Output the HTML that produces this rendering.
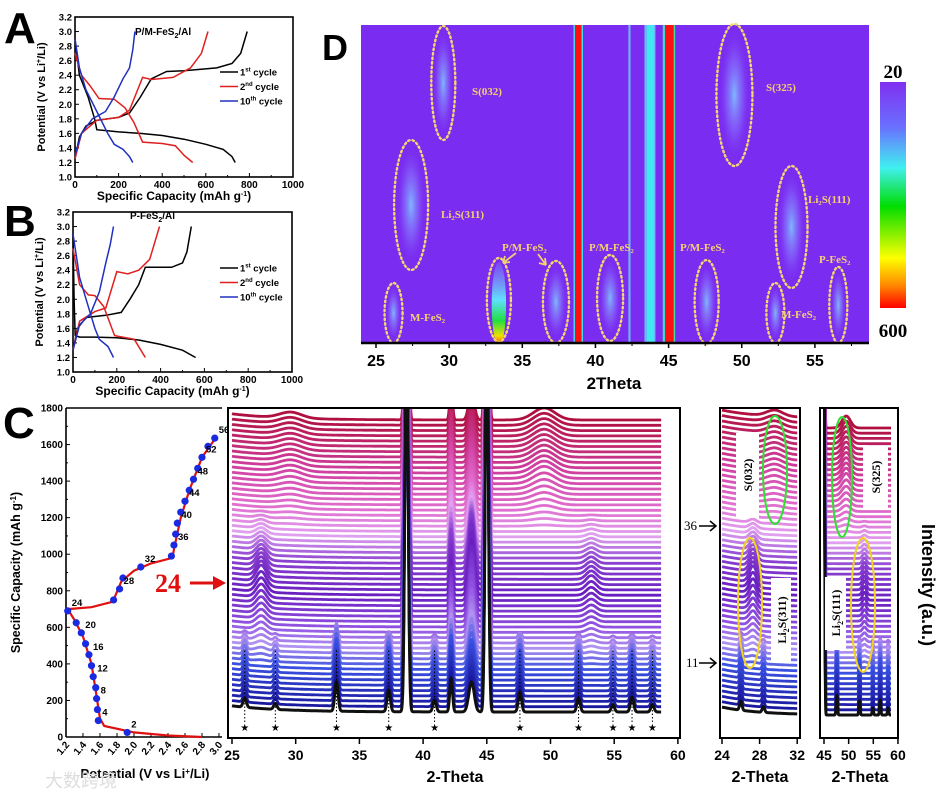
<!DOCTYPE html>
<html><head><meta charset="utf-8">
<style>
html,body{margin:0;padding:0;background:#fff;}
svg{display:block;font-family:"Liberation Sans",sans-serif;}
</style></head>
<body>
<svg id="fig" width="938" height="797" viewBox="0 0 938 797" xmlns="http://www.w3.org/2000/svg">
<defs>
  <linearGradient id="cbar" x1="0" y1="0" x2="0" y2="1">
    <stop offset="0" stop-color="#8030f0"/><stop offset="0.2" stop-color="#6a70ff"/>
    <stop offset="0.38" stop-color="#40f0f0"/><stop offset="0.55" stop-color="#00dd00"/>
    <stop offset="0.78" stop-color="#ffff00"/><stop offset="0.9" stop-color="#ff8800"/>
    <stop offset="1" stop-color="#ff0000"/>
  </linearGradient>
  <radialGradient id="blob" cx="0.5" cy="0.5" r="0.5">
    <stop offset="0" stop-color="#7ec8ff" stop-opacity="0.9"/><stop offset="0.55" stop-color="#8a80ff" stop-opacity="0.45"/><stop offset="1" stop-color="#7a2cf0" stop-opacity="0"/>
  </radialGradient>
  <linearGradient id="hot" x1="0" y1="0" x2="0" y2="1">
    <stop offset="0" stop-color="#80b0ff" stop-opacity="0.2"/><stop offset="0.45" stop-color="#60e0ff"/><stop offset="0.7" stop-color="#20e040"/><stop offset="0.88" stop-color="#f0e000"/><stop offset="1" stop-color="#ff2000"/>
  </linearGradient>
  <clipPath id="clipW"><rect x="228" y="408" width="452" height="330"/></clipPath>
  <clipPath id="clipS1"><rect x="720" y="408" width="80" height="330"/></clipPath>
  <clipPath id="clipS2"><rect x="820" y="408" width="78" height="330"/></clipPath>
  <clipPath id="clipD"><rect x="361" y="25" width="508" height="318"/></clipPath>
</defs>
<g id="root"></g>
</svg>
<script>
// ---------- Panel A / B data (capacity mAh/g, potential V) ----------
const aDis1=[[0,2.9],[20,2.4],[60,2.1],[90,1.8],[100,1.65],[200,1.62],[300,1.6],[400,1.57],[500,1.52],[600,1.45],[680,1.38],[720,1.28],[735,1.2]];
const aCha1=[[0,1.25],[20,1.55],[50,1.7],[100,1.78],[200,1.82],[250,1.88],[300,2.1],[350,2.35],[420,2.45],[500,2.46],[650,2.5],[720,2.56],[760,2.7],[790,3.0]];
const aDis2=[[0,2.7],[30,2.4],[70,2.25],[110,2.08],[180,2.07],[230,1.95],[270,1.75],[310,1.48],[400,1.46],[460,1.43],[500,1.3],[540,1.2]];
const aCha2=[[0,1.25],[30,1.6],[100,1.78],[200,1.82],[250,1.92],[310,2.37],[350,2.34],[450,2.37],[530,2.5],[580,2.7],[610,3.0]];
const aDis10=[[0,2.9],[20,2.5],[50,2.2],[100,1.9],[150,1.6],[180,1.45],[220,1.38],[250,1.28],[265,1.2]];
const aCha10=[[0,1.3],[30,1.6],[80,1.8],[140,1.9],[180,2.1],[220,2.35],[250,2.5],[265,2.75],[275,3.0]];
const bDis1=[[0,2.9],[5,2.0],[10,1.5],[30,1.48],[100,1.48],[200,1.47],[300,1.44],[400,1.38],[500,1.3],[560,1.2]];
const bCha1=[[0,1.3],[20,1.6],[60,1.75],[150,1.78],[220,1.82],[260,2.0],[300,2.2],[330,2.44],[450,2.44],[500,2.5],[520,2.65],[540,3.0]];
const bDis2=[[0,2.7],[30,2.2],[70,2.06],[100,2.05],[140,1.9],[190,1.5],[280,1.45],[330,1.2]];
const bCha2=[[0,1.3],[30,1.7],[100,1.83],[150,1.88],[200,2.38],[250,2.35],[300,2.4],[350,2.55],[395,3.0]];
const bDis10=[[0,2.9],[30,2.3],[60,2.0],[100,1.6],[120,1.45],[160,1.35],[185,1.2]];
const bCha10=[[0,1.3],[30,1.65],[80,1.8],[120,2.1],[150,2.5],[170,2.75],[185,3.0]];
const abYTicks=[1.0,1.2,1.4,1.6,1.8,2.0,2.2,2.4,2.6,2.8,3.0,3.2];
const abXTicks=[0,200,400,600,800,1000];
// ---------- Panel C data ----------
const cCurve=[[2.8,0],[2.4,8],[2.0,25],[1.65,60],[1.6,100],[1.55,250],[1.5,400],[1.4,550],[1.3,640],[1.22,700],[1.5,710],[1.75,740],[1.85,850],[2.0,910],[2.2,950],[2.45,980],[2.48,1050],[2.55,1200],[2.65,1350],[2.8,1530],[2.95,1630]];
const cPoints=[[1.92,25],[1.58,90],[1.57,150],[1.56,210],[1.55,270],[1.52,330],[1.5,390],[1.47,450],[1.43,510],[1.38,570],[1.32,625],[1.22,690],[1.76,750],[1.83,810],[1.87,870],[2.08,930],[2.44,990],[2.47,1050],[2.49,1110],[2.51,1170],[2.55,1230],[2.6,1290],[2.65,1350],[2.7,1410],[2.75,1470],[2.8,1530],[2.87,1590],[2.95,1635]];
const cLabels=[["2",1.92,25],["4",1.58,90],["8",1.56,210],["12",1.52,330],["16",1.47,450],["20",1.38,570],["24",1.22,690],["28",1.83,810],["32",2.08,930],["36",2.47,1050],["40",2.51,1170],["44",2.6,1290],["48",2.7,1410],["52",2.8,1530],["56",2.95,1635]];
const cXTicks=[1.2,1.4,1.6,1.8,2.0,2.2,2.4,2.6,2.8,3.0];
const cYTicks=[0,200,400,600,800,1000,1200,1400,1600,1800];
// ---------- XRD waterfall data ----------
const nCycles=56;
const fesPeaks=[26,28.4,33.2,37.3,40.9,47.6,52.2,54.9,56.4,58];
const fesHeights=[9,6,30,22,12,20,14,7,15,7];
const hostPeaks=[38.7,42.2,43.8,45];
const hostHeights=[420,34,50,420];
const li2sPeaks=[27.3,53.2];
const li2sHeights=[16,9];
const sPeaks=[29.6,49.5];
const sHeights=[6,12];
const starPeaks=[26,28.4,33.2,37.3,40.9,47.6,52.2,54.9,56.4,58];
const wXTicks=[25,30,35,40,45,50,55,60];
const s1XTicks=[24,28,32];
const s2XTicks=[45,50,55,60];
// ---------- Heatmap D data ----------
const dXTicks=[25,30,35,40,45,50,55];
const dBlobs=[[29.6,83,12,57],[27.4,205,17,65],[26.2,313,9,30],[37.3,302,13,41],[41,298,13,43],[47.6,302,12,42],[49.5,95,18,71],[53.4,227,16,61],[52.3,313,9,30],[56.6,305,9,38]];
const dHot=[33.4,300,12,42];
const dLabels=[["S(032)",472,95],["Li₂S(311)",441,218],["M-FeS₂",410,321],["P/M-FeS₂",502,251],["P/M-FeS₂",589,251],["P/M-FeS₂",680,251],["S(325)",766,91],["Li₂S(111)",808,203],["M-FeS₂",781,318],["P-FeS₂",819,263]];

const NS="http://www.w3.org/2000/svg";
const root=document.getElementById('root');
function mk(tag,attrs,parent,name,inter){const e=document.createElementNS(NS,tag);for(const k in attrs)e.setAttribute(k,attrs[k]);(parent||root).appendChild(e);


return e;}
function txt(s,x,y,attrs,parent,name){const e=mk('text',Object.assign({x:x,y:y},attrs||{}),parent,name||'label');e.textContent=s;return e;}
function pth(pts,fx,fy){return pts.map((p,i)=>(i?'L':'M')+fx(p[0]).toFixed(1)+' '+fy(p[1]).toFixed(1)).join('');}

// ======== Panel A & B ========
function cyclePanel(tag,x0,x1,yTop,yBot,curves,title,titleX,titleY,legY,letterY){
  const g=mk('g',{},root,'panel-'+tag);
  const fx=c=>x0+c*(x1-x0)/1000, fy=v=>yBot-(v-1)*(yBot-yTop)/2.2;
  mk('rect',{x:x0,y:yTop,width:x1-x0,height:yBot-yTop,fill:'none',stroke:'#000','stroke-width':1.6},g,'plot-frame');
  abYTicks.forEach(v=>{mk('line',{x1:x0,x2:x0+4,y1:fy(v),y2:fy(v),stroke:'#000'},g,'y-tick');
    txt(v.toFixed(1),x0-3,fy(v)+3.5,{'text-anchor':'end','font-size':9.5,'font-weight':'bold'},g,'y-tick-label');});
  abXTicks.forEach(c=>{mk('line',{x1:fx(c),x2:fx(c),y1:yBot,y2:yBot-4,stroke:'#000'},g,'x-tick');
    if(c<1000) mk('line',{x1:fx(c+100),x2:fx(c+100),y1:yBot,y2:yBot-2,stroke:'#000'},g,'x-minor-tick');
    txt(String(c),fx(c),yBot+11,{'text-anchor':'middle','font-size':10,'font-weight':'bold'},g,'x-tick-label');});
  curves.forEach(cv=>mk('path',{d:pth(cv[0],fx,fy),fill:'none',stroke:cv[1],'stroke-width':1.5},g,'curve-'+cv[2]));
  txt('',titleX,titleY,{'font-size':10,'font-weight':'bold'},g,'panel-title').innerHTML=title;
  const leg=[['#000','1','st'],['#e02020','2','nd'],['#2030c0','10','th']];
  leg.forEach((l,i)=>{const y=legY+i*14.5;mk('line',{x1:220,x2:238,y1:y,y2:y,stroke:l[0],'stroke-width':1.5},g,'legend-line');
    const t=txt('',240,y+3.5,{'font-size':9.5,'font-weight':'bold'},g,'legend-entry');
    t.innerHTML=l[1]+'<tspan font-size="6" dy="-4">'+l[2]+'</tspan><tspan dy="4"> cycle</tspan>';});
  const yl=txt('',0,0,{'font-size':11,'font-weight':'bold','text-anchor':'middle',transform:'translate('+(x0-30)+','+((yTop+yBot)/2)+') rotate(-90)'},g,'y-axis-title');
  yl.innerHTML='Potential (V vs Li<tspan font-size="7" dy="-4">+</tspan><tspan dy="4">/Li)</tspan>';
  const xl=txt('',(x0+x1)/2-10,yBot+23,{'font-size':12,'font-weight':'bold','text-anchor':'middle'},g,'x-axis-title');
  xl.innerHTML='Specific Capacity (mAh g<tspan font-size="7" dy="-4">-1</tspan><tspan dy="4">)</tspan>';
  txt(tag,4,letterY,{'font-size':44,'font-weight':'bold'},g,'panel-letter');
}
cyclePanel('A',75,293,17,177,[[aDis1,'#000','1st-discharge'],[aCha1,'#000','1st-charge'],[aDis2,'#e02020','2nd-discharge'],[aCha2,'#e02020','2nd-charge'],[aDis10,'#2030c0','10th-discharge'],[aCha10,'#2030c0','10th-charge']],'P/M-FeS<tspan font-size="7" dy="3">2</tspan><tspan dy="-3">/Al</tspan>',135,35,72,43);
cyclePanel('B',73,292,212,372,[[bDis1,'#000','1st-discharge'],[bCha1,'#000','1st-charge'],[bDis2,'#e02020','2nd-discharge'],[bCha2,'#e02020','2nd-charge'],[bDis10,'#2030c0','10th-discharge'],[bCha10,'#2030c0','10th-charge']],'P-FeS<tspan font-size="7" dy="3">2</tspan><tspan dy="-3">/Al</tspan>',130,219,268,236);

// ======== Panel C ========
(function(){
  const g=mk('g',{},root,'panel-C');
  const x0=66,x1=219,yT=408,yB=737;
  const fx=p=>x0+(p-1.2)*(x1-x0)/1.8, fy=c=>yB-c*(yB-yT)/1800;
  mk('line',{x1:x0,y1:yT,x2:x0,y2:yB,stroke:'#000','stroke-width':1.6},g,'y-axis');
  mk('line',{x1:x0,y1:yB,x2:x1+3,y2:yB,stroke:'#000','stroke-width':1.6},g,'x-axis');
  mk('line',{x1:x0,y1:yT,x2:222,y2:yT,stroke:'#000','stroke-width':1.6},g,'top-axis');
  cYTicks.forEach(c=>{mk('line',{x1:x0,x2:x0+4,y1:fy(c),y2:fy(c),stroke:'#000'},g,'y-tick');
    if(c<1800) mk('line',{x1:x0,x2:x0+2,y1:fy(c+100),y2:fy(c+100),stroke:'#000'},g,'y-minor-tick');
    txt(String(c),x0-3,fy(c)+3.5,{'text-anchor':'end','font-size':10,'font-weight':'bold'},g,'y-tick-label');});
  cXTicks.forEach(p=>{mk('line',{x1:fx(p),x2:fx(p),y1:yB,y2:yB-4,stroke:'#000'},g,'x-tick');
    txt(p.toFixed(1),0,0,{'font-size':10,'font-weight':'bold','text-anchor':'end',transform:'translate('+(fx(p)+4)+','+(yB+8)+') rotate(-50)'},g,'x-tick-label');});
  mk('path',{d:pth(cCurve,fx,fy),fill:'none',stroke:'#e01010','stroke-width':2.2},g,'capacity-curve');
  cPoints.forEach(p=>mk('circle',{cx:fx(p[0]),cy:fy(p[1]),r:3.6,fill:'#1a2ae0'},g,'scan-point'));
  cLabels.forEach(l=>txt(l[0],fx(l[1])+4,fy(l[2])-5,{'font-size':9.5,'font-weight':'bold'},g,'point-label'));
  const yl=txt('',0,0,{'font-size':12.5,'font-weight':'bold','text-anchor':'middle',transform:'translate(20,'+((yT+yB)/2)+') rotate(-90)'},g,'y-axis-title');
  yl.innerHTML='Specific Capacity (mAh g<tspan font-size="8" dy="-4">-1</tspan><tspan dy="4">)</tspan>';
  const xl=txt('',145,778,{'font-size':13,'font-weight':'bold','text-anchor':'middle'},g,'x-axis-title');
  xl.innerHTML='Potential (V vs Li<tspan font-size="8" dy="-4">+</tspan><tspan dy="4">/Li)</tspan>';
  txt('C',3,438,{'font-size':44,'font-weight':'bold'},g,'panel-letter');
  txt('24',155,592,{'font-size':26,'font-weight':'bold','fill':'#e01010','font-family':'Liberation Serif'},g,'cycle-24-label');
  mk('path',{d:'M190 583 L215 583',stroke:'#e01010','stroke-width':3},g,'cycle-24-arrow');
  mk('path',{d:'M213 576 L226 583 L213 590 Z',fill:'#e01010'},g,'cycle-24-arrowhead');
  txt('大数跨境',45,787,{'font-size':18,'fill':'#ddd','font-family':'"Liberation Sans","Noto Sans CJK SC",sans-serif'},g,'watermark');
})();

// ======== Panel D heatmap ========
(function(){
  const g=mk('g',{},root,'panel-D');
  const xD=t=>376+(t-25)*14.63;
  txt('D',322,60,{'font-size':36,'font-weight':'bold'},g,'panel-letter');
  const hm=mk('g',{'clip-path':'url(#clipD)'},g,'heatmap');
  mk('rect',{x:361,y:25,width:508,height:318,fill:'#7a2cf0'},hm,'heatmap-background');
  dBlobs.forEach(b=>mk('ellipse',{cx:xD(b[0]),cy:b[1],rx:b[2]*0.85,ry:b[3]*0.95,fill:'url(#blob)'},hm,'intensity-blob'));
  mk('ellipse',{cx:xD(dHot[0]),cy:dHot[1]+4,rx:dHot[2]*0.6,ry:dHot[3],fill:'url(#hot)'},hm,'intensity-hot-peak');
  const stripes=[[38.5,38.6,'#40e0f0'],[38.6,39.05,'#ff1010'],[39.05,39.15,'#40e0f0'],[42.25,42.4,'#70b0ff'],[43.35,43.5,'#70b8ff'],[43.5,44.0,'#40e8f0'],[44.0,44.1,'#70b8ff'],[44.6,44.75,'#40e0c0'],[44.8,45.35,'#ff1010'],[45.35,45.45,'#40e0a0']];
  stripes.forEach(s=>mk('rect',{x:xD(s[0]),y:25,width:xD(s[1])-xD(s[0]),height:318,fill:s[2]},hm,'peak-stripe'));
  dBlobs.concat([dHot]).forEach(b=>mk('ellipse',{cx:xD(b[0]),cy:b[1],rx:b[2],ry:b[3],fill:'none',stroke:'#f2d870','stroke-width':2.4,'stroke-dasharray':'1.5 3','stroke-linecap':'round'},g,'phase-ellipse'));
  dLabels.forEach(l=>txt(l[0],l[1],l[2],{'font-size':11,'font-weight':'bold','fill':'#f5d070','font-family':'"Liberation Serif",serif'},g,'phase-label'));
  mk('path',{d:'M516 253 L503 263 M503 263 L510 262 M503 263 L505 256 M538 254 L546 265 M546 265 L545 258 M546 265 L539 263',stroke:'#f5d070','stroke-width':1.8,fill:'none'},g,'phase-arrows');
  mk('line',{x1:361,x2:869,y1:343,y2:343,stroke:'#000','stroke-width':2.5},g,'x-axis');
  dXTicks.forEach(t=>{mk('line',{x1:xD(t),x2:xD(t),y1:343,y2:348,stroke:'#000','stroke-width':1.5},g,'x-tick');
    mk('line',{x1:xD(t+2.5),x2:xD(t+2.5),y1:343,y2:346,stroke:'#000'},g,'x-minor-tick');
    txt(String(t),xD(t),366,{'text-anchor':'middle','font-size':16,'font-weight':'bold'},g,'x-tick-label');});
  txt('2Theta',614,389,{'text-anchor':'middle','font-size':17,'font-weight':'bold'},g,'x-axis-title');
  mk('rect',{x:880,y:82,width:26,height:226,fill:'url(#cbar)'},g,'colorbar');
  txt('20',893,78,{'text-anchor':'middle','font-size':19,'font-weight':'bold','font-family':'"Liberation Serif",serif'},g,'colorbar-min-label');
  txt('600',893,337,{'text-anchor':'middle','font-size':19,'font-weight':'bold','font-family':'"Liberation Serif",serif'},g,'colorbar-max-label');
})();

// ======== XRD waterfall panels ========
const colorStops=[[0,[16,16,16]],[1,[26,26,160]],[8,[58,80,224]],[12,[176,144,240]],[16,[144,80,224]],[22,[106,32,192]],[28,[138,64,208]],[33,[224,160,240]],[38,[224,112,208]],[45,[208,64,160]],[55,[176,16,64]]];
function colorAt(i){for(let k=1;k<colorStops.length;k++){const a=colorStops[k-1],b=colorStops[k];if(i<=b[0]){const f=(i-a[0])/(b[0]-a[0]||1);return 'rgb('+a[1].map((v,j)=>Math.round(v+(b[1][j]-v)*f)).join(',')+')';}}return 'rgb(176,16,64)';}
function gauss(t,p,w){const d=(t-p)/w;return Math.exp(-d*d);}
function wFes(i){return i<=11?1:Math.max(0,1-(i-11)/4);}
function wLi(i){return i<8?0:(i<=24?(i-8)/16:Math.max(0,1-(i-24)/14));}
function wS(i){return i<34?0:Math.min(1,(i-34)/10);}
function intensity(i,t){
  let v=7*Math.exp(-(t-24.5)/4);
  hostPeaks.forEach((p,k)=>{const w=(k==0||k==3)?0.17:(k==1?0.15:0.3);v+=hostHeights[k]*gauss(t,p,w)*(k==2?(0.6+0.6*wLi(i)):1);});
  fesPeaks.forEach((p,k)=>{v+=fesHeights[k]*wFes(i)*gauss(t,p,0.18);});
  li2sPeaks.forEach((p,k)=>{v+=li2sHeights[k]*wLi(i)*gauss(t,p,0.55);});
  sPeaks.forEach((p,k)=>{v+=sHeights[k]*wS(i)*gauss(t,p,1.2);});
  return v;
}
function waterfall(name,clip,fx,tMin,tMax,baseBot,baseTop,amp,step){
  const g=mk('g',{'clip-path':'url(#'+clip+')'},root,name);
  for(let i=nCycles-1;i>=0;i--){
    const base=baseBot-(baseBot-baseTop)*i/(nCycles-1);
    let d='';
    for(let t=tMin;t<=tMax+1e-6;t+=step){d+=(d?'L':'M')+fx(t).toFixed(1)+' '+(base-amp*intensity(i,t)).toFixed(1);}
    mk('path',{d:d,fill:'none',stroke:colorAt(i),'stroke-width':i==0?3:2.8,'stroke-linejoin':'round'},g,'xrd-pattern-cycle-'+(i+1));
  }
  return g;
}
// main
(function(){
  const fx=t=>232+(t-25)*12.74;
  waterfall('xrd-waterfall-main','clipW',fx,25,58.7,712,420,1,0.04);
  const g=mk('g',{},root,'xrd-main-axes');
  starPeaks.forEach(p=>{mk('line',{x1:fx(p),x2:fx(p),y1:722,y2:650,stroke:'#000','stroke-dasharray':'1.5 2'},g,'peak-guide');
    txt('★',fx(p),731,{'text-anchor':'middle','font-size':10},g,'fes2-star');});
  mk('rect',{x:228,y:408,width:452,height:330,fill:'none',stroke:'#000','stroke-width':2},g,'plot-frame');
  wXTicks.forEach(t=>{mk('line',{x1:fx(t),x2:fx(t),y1:738,y2:744,stroke:'#000','stroke-width':1.5},g,'x-tick');
    txt(String(t),fx(t),760,{'text-anchor':'middle','font-size':14,'font-weight':'bold'},g,'x-tick-label');});
  txt('2-Theta',455,782,{'text-anchor':'middle','font-size':16,'font-weight':'bold'},g,'x-axis-title');
})();
// small 1
(function(){
  const fx=t=>722+(t-24)*9.4;
  waterfall('xrd-zoom-24-32','clipS1',fx,24,32,715,418,1,0.05);
  const g=mk('g',{},root,'xrd-zoom1-axes');
  mk('rect',{x:720,y:408,width:80,height:330,fill:'none',stroke:'#000','stroke-width':2},g,'plot-frame');
  s1XTicks.forEach(t=>{mk('line',{x1:fx(t),x2:fx(t),y1:738,y2:744,stroke:'#000','stroke-width':1.5},g,'x-tick');
    txt(String(t),fx(t),760,{'text-anchor':'middle','font-size':14,'font-weight':'bold'},g,'x-tick-label');});
  txt('2-Theta',760,782,{'text-anchor':'middle','font-size':16,'font-weight':'bold'},g,'x-axis-title');
  mk('rect',{x:736,y:433,width:23,height:85,fill:'#fff'},g,'label-box');
  txt('S(032)',0,0,{'font-size':12,'font-weight':'bold','font-family':'"Liberation Serif",serif','text-anchor':'middle',transform:'translate(752,475) rotate(-90)'},g,'s032-label');
  mk('ellipse',{cx:775,cy:470,rx:12,ry:54,fill:'none',stroke:'#30e030','stroke-width':2},g,'s032-ellipse');
  mk('rect',{x:771,y:578,width:20,height:84,fill:'#fff'},g,'label-box');
  const t=txt('',0,0,{'font-size':12,'font-weight':'bold','font-family':'"Liberation Serif",serif','text-anchor':'middle',transform:'translate(786,620) rotate(-90)'},g,'li2s311-label');
  t.innerHTML='Li<tspan font-size="8" dy="3">2</tspan><tspan dy="-3">S(311)</tspan>';
  mk('ellipse',{cx:750,cy:603,rx:12,ry:65,fill:'none',stroke:'#f0d020','stroke-width':2},g,'li2s311-ellipse');
  txt('36',684,530,{'font-size':13,'font-family':'"Liberation Serif",serif'},g,'cycle-36-label');
  mk('path',{d:'M699 526 L716 526 M710 521 L716 526 L710 531',stroke:'#000','stroke-width':1.5,fill:'none'},g,'cycle-36-arrow');
  txt('11',686,667,{'font-size':13,'font-family':'"Liberation Serif",serif'},g,'cycle-11-label');
  mk('path',{d:'M699 663 L716 663 M710 658 L716 663 L710 668',stroke:'#000','stroke-width':1.5,fill:'none'},g,'cycle-11-arrow');
})();
// small 2
(function(){
  const fx=t=>824+(t-45)*4.93;
  waterfall('xrd-zoom-45-60','clipS2',fx,45,58.6,715,428,1,0.05);
  const g=mk('g',{},root,'xrd-zoom2-axes');
  mk('rect',{x:820,y:408,width:78,height:330,fill:'none',stroke:'#000','stroke-width':2},g,'plot-frame');
  s2XTicks.forEach(t=>{mk('line',{x1:fx(t),x2:fx(t),y1:738,y2:744,stroke:'#000','stroke-width':1.5},g,'x-tick');
    txt(String(t),fx(t),760,{'text-anchor':'middle','font-size':14,'font-weight':'bold'},g,'x-tick-label');});
  txt('2-Theta',860,782,{'text-anchor':'middle','font-size':16,'font-weight':'bold'},g,'x-axis-title');
  mk('rect',{x:863,y:447,width:25,height:61,fill:'#fff'},g,'label-box');
  txt('S(325)',0,0,{'font-size':12,'font-weight':'bold','font-family':'"Liberation Serif",serif','text-anchor':'middle',transform:'translate(880,477) rotate(-90)'},g,'s325-label');
  mk('ellipse',{cx:842,cy:477,rx:10,ry:60,fill:'none',stroke:'#30e030','stroke-width':2},g,'s325-ellipse');
  mk('rect',{x:825,y:577,width:21,height:73,fill:'#fff'},g,'label-box');
  const t=txt('',0,0,{'font-size':12,'font-weight':'bold','font-family':'"Liberation Serif",serif','text-anchor':'middle',transform:'translate(840,613) rotate(-90)'},g,'li2s111-label');
  t.innerHTML='Li<tspan font-size="8" dy="3">2</tspan><tspan dy="-3">S(111)</tspan>';
  mk('ellipse',{cx:863,cy:605,rx:12,ry:67,fill:'none',stroke:'#f0d020','stroke-width':2},g,'li2s111-ellipse');
  txt('Intensity (a.u.)',0,0,{'font-size':18,'font-weight':'bold','text-anchor':'middle',transform:'translate(922,585) rotate(90)'},g,'intensity-axis-title');
})();
</script>
</body></html>
